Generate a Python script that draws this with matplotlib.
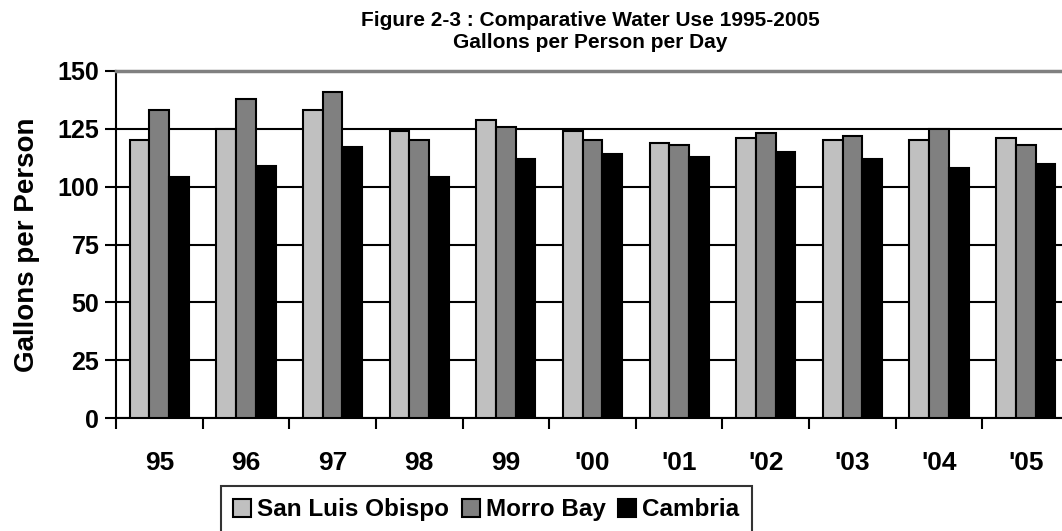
import numpy as np
import matplotlib
matplotlib.use("Agg")
import matplotlib.pyplot as plt

plt.rcParams['font.family'] = ['Liberation Sans', 'DejaVu Sans']
plt.rcParams['font.weight'] = 'bold'

years = ["95", "96", "97", "98", "99", "'00", "'01", "'02", "'03", "'04", "'05"]
slo = [120, 125, 133, 124, 129, 124, 119, 121, 120, 120, 121]
morro = [133, 138, 141, 120, 126, 120, 118, 123, 122, 125, 118]
cambria = [104, 109, 117, 104, 112, 114, 113, 115, 112, 108, 110]
series = ["San Luis Obispo", "Morro Bay", "Cambria"]
colors = ["#c0c0c0", "#808080", "#000000"]

fig = plt.figure(figsize=(10.62, 5.31), dpi=100)
ax = fig.add_axes([116 / 1062, 113 / 531, 953 / 1062, 347 / 531])

x = np.arange(len(years))
w = 0.228
for i, (vals, name, c) in enumerate(zip([slo, morro, cambria], series, colors)):
    ax.bar(x + (i - 1) * w, vals, w, color=c, edgecolor='black', linewidth=1.5,
           label=name, zorder=3)

ax.set_xlim(-0.5, len(years) - 0.5)
ax.set_ylim(0, 150)
ax.set_yticks(range(0, 151, 25))
ax.tick_params(axis='y', labelsize=18, length=8, width=1.5, direction='out', pad=4)
for t in ax.get_yticklabels():
    t.set_fontweight('bold')

# year labels centred on groups, tick marks between groups
ax.set_xticks(x)
ax.set_xticklabels(years, fontsize=19, fontweight='bold')
ax.tick_params(axis='x', length=0, pad=24)
ax.set_xticks(np.arange(-0.5, len(years), 1), minor=True)
ax.tick_params(axis='x', which='minor', length=8, width=1.5, direction='out')

ax.yaxis.grid(True, color='black', linewidth=1.5, zorder=0)
ax.set_axisbelow(True)
ax.spines['top'].set_color('#808080')
ax.spines['top'].set_linewidth(2.5)
ax.spines['right'].set_visible(False)
ax.spines['left'].set_linewidth(1.5)
ax.spines['bottom'].set_linewidth(1.5)

ax.set_ylabel("Gallons per Person", fontsize=20, fontweight='bold', labelpad=13)

fig.text(590 / 1062, 1 - 20 / 531, "Figure 2-3 : Comparative Water Use 1995-2005",
         ha='center', va='center', fontsize=15, fontweight='bold')
fig.text(590 / 1062, 1 - 43 / 531, "Gallons per Person per Day",
         ha='center', va='center', fontsize=15, fontweight='bold')

leg = fig.legend(loc='upper left', bbox_to_anchor=(221 / 1062, 1 - 486 / 531),
                 ncol=3, fontsize=17.5, frameon=True, fancybox=False,
                 handlelength=0.75, handleheight=0.75, handletextpad=0.25,
                 columnspacing=0.5, borderpad=0.5, borderaxespad=0)
leg.get_frame().set_edgecolor('black')
leg.get_frame().set_linewidth(1.5)
for t in leg.get_texts():
    t.set_fontweight('bold')

fig.savefig("out.png", dpi=100)
